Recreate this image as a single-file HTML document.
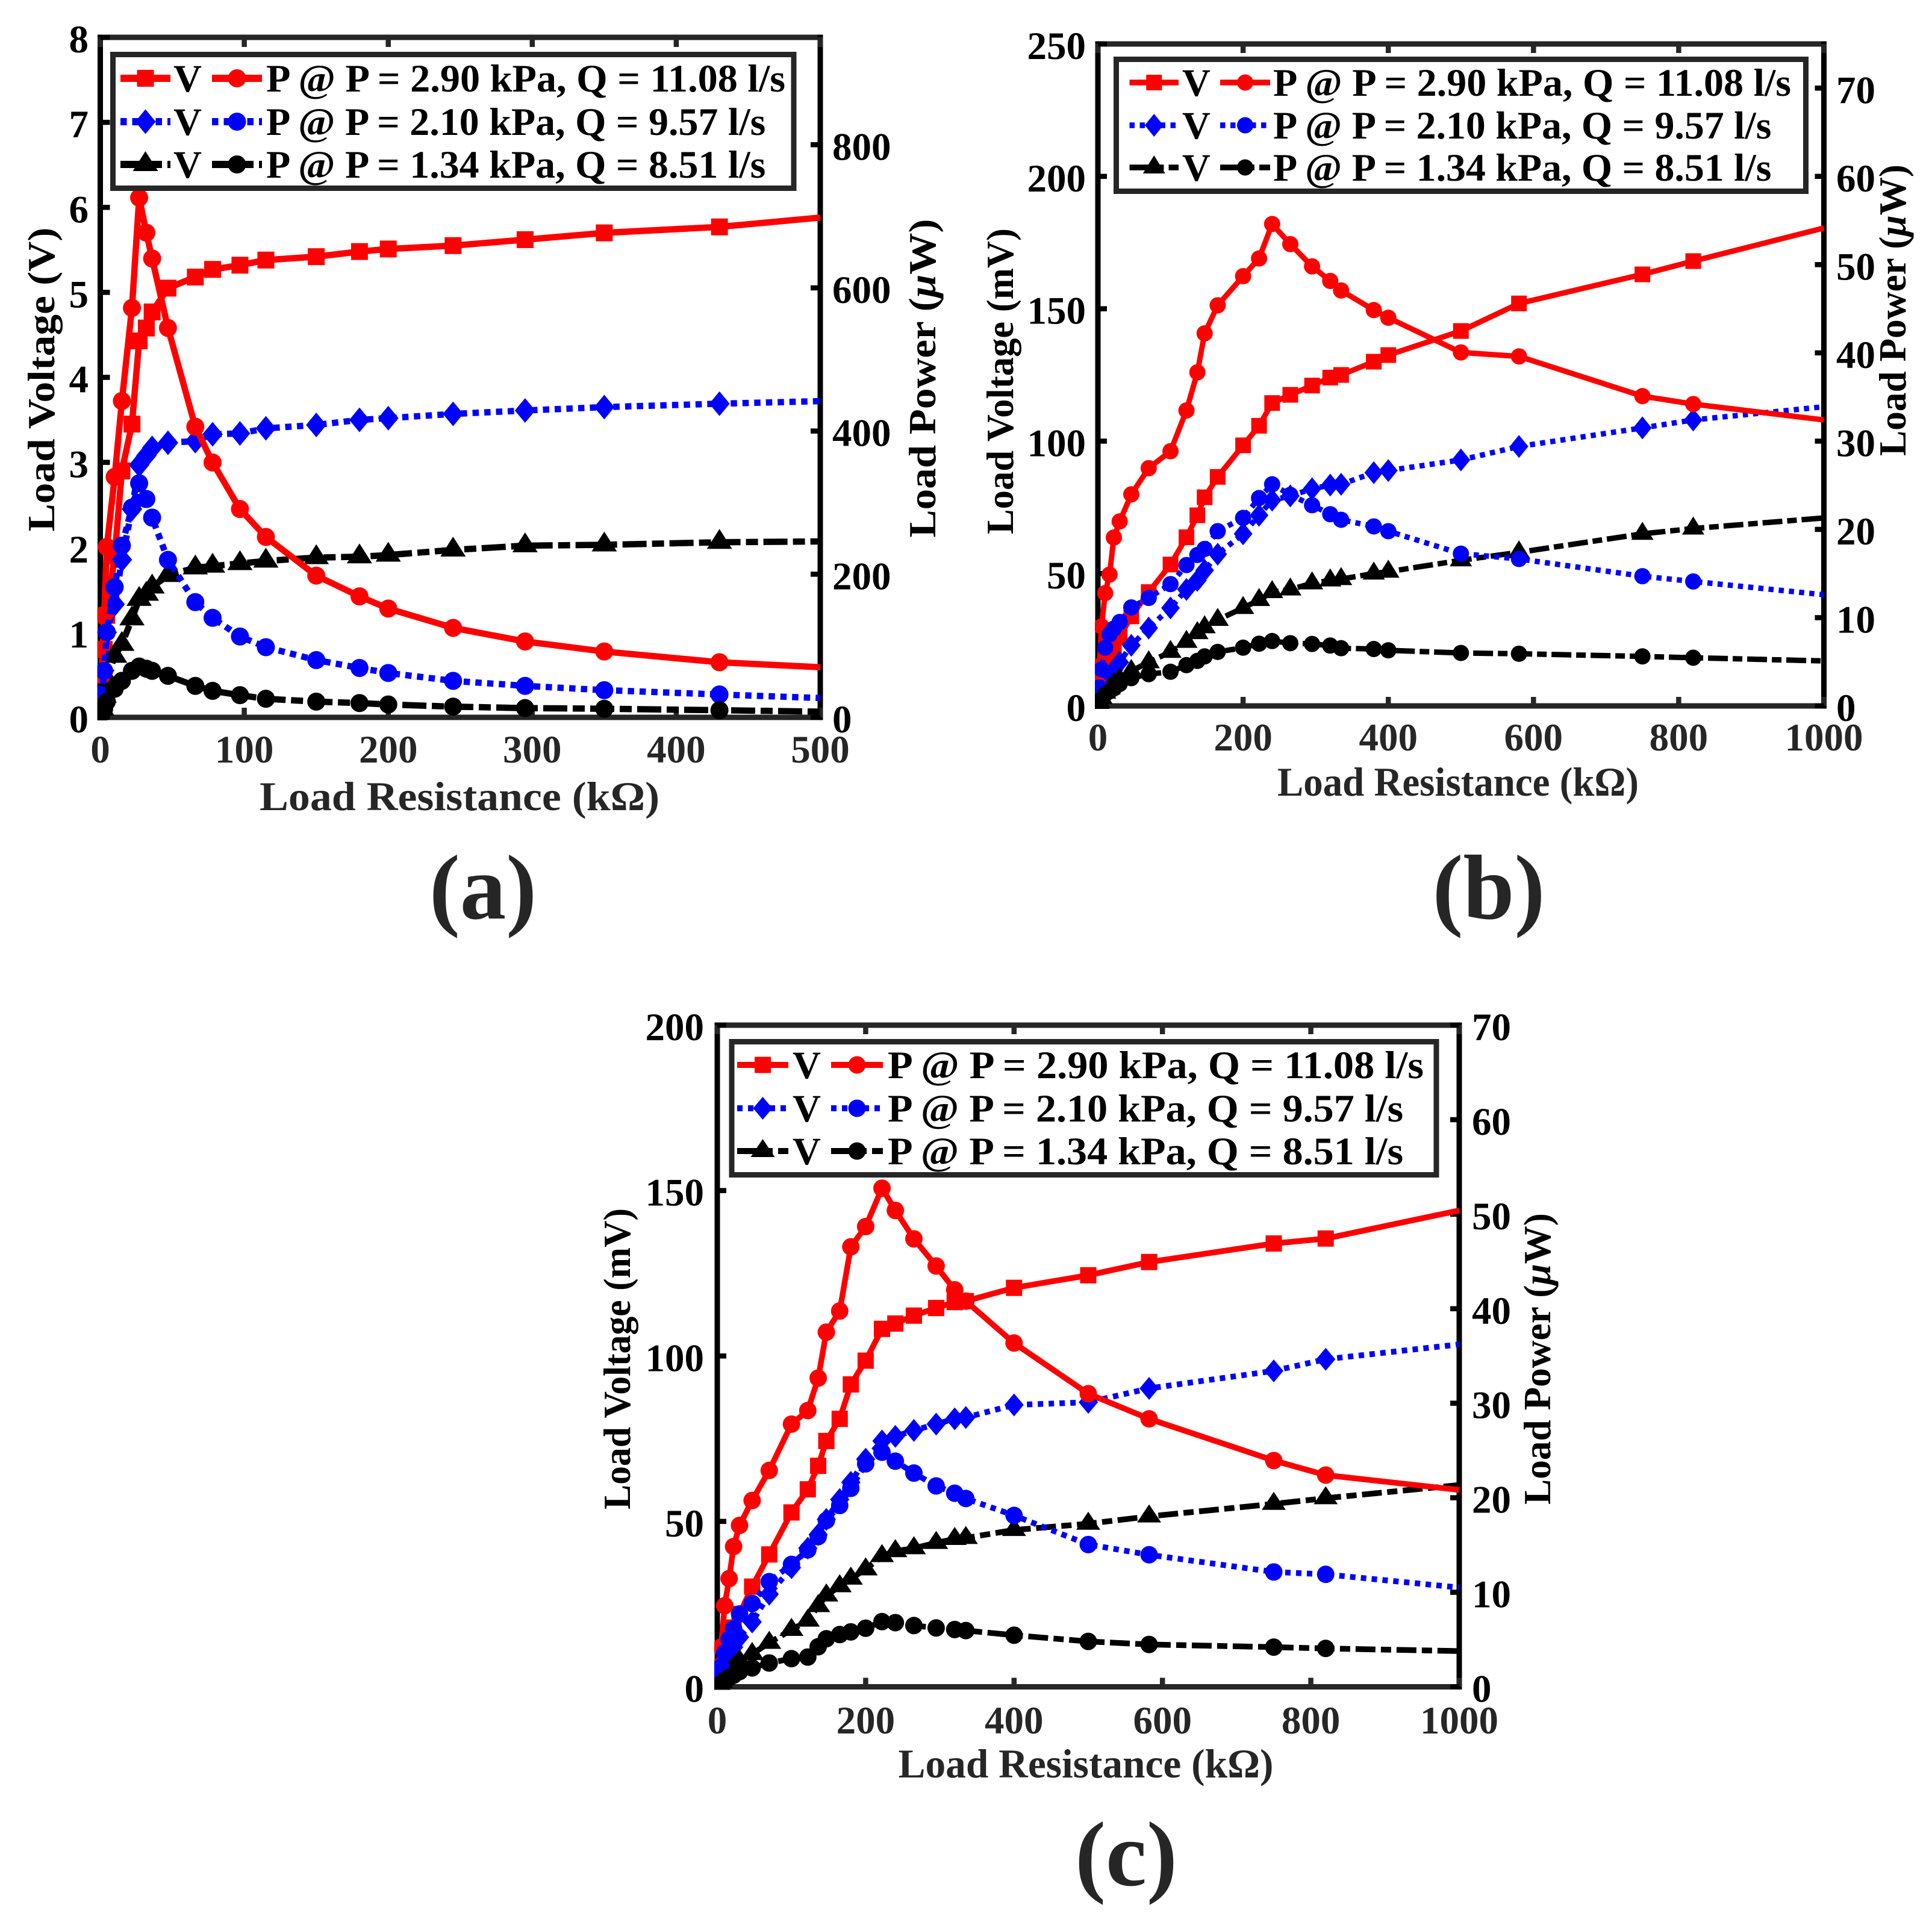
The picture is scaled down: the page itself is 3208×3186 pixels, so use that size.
<!DOCTYPE html>
<html lang="en">
<head>
<meta charset="utf-8">
<title>Load voltage and power versus load resistance</title>
<style>
html,body{margin:0;padding:0;background:#fff;}
svg{display:block;}
text{font-family:"Liberation Serif","DejaVu Serif",serif;font-weight:bold;}
</style>
</head>
<body>
<svg id="figure" xmlns="http://www.w3.org/2000/svg" width="3208" height="3186" viewBox="0 0 3208 3186">
<rect width="3208" height="3186" fill="#ffffff"/>
<text x="802" y="1525" font-size="153" text-anchor="middle" fill="#262626">(a)</text>
<text x="2472" y="1525" font-size="153" text-anchor="middle" fill="#262626">(b)</text>
<text x="1870" y="3130" font-size="153" text-anchor="middle" fill="#262626">(c)</text>
</svg>
<script>
// Panel (a)
const aResistance = [1,2.7,4.5,10,15,22,27,32,36,47,66,78,97,115,150,180,200,245,295,350,430,500];
const aVoltageHigh = [0.4,0.8,1.2,1.9,2.9,3.45,4.43,4.58,4.77,5.05,5.18,5.27,5.32,5.38,5.42,5.48,5.51,5.55,5.62,5.7,5.77,5.88];
const aVoltageMid = [0.3,0.55,1.0,1.33,1.855,2.45,2.97,3.08,3.17,3.23,3.25,3.33,3.34,3.4,3.44,3.5,3.52,3.57,3.61,3.65,3.69,3.72];
const aVoltageLow = [0.1,0.25,0.45,0.72,0.86,1.16,1.39,1.45,1.535,1.67,1.76,1.78,1.81,1.84,1.88,1.89,1.91,1.97,2.02,2.03,2.06,2.07];
const aPowerHigh = [59,143,238,336,442,572,726,677,641,544,406,356,291,252,198,169,152,125,106,92,77,70];
const aPowerMid = [30,65,119,182,240,293,327,305,279,220,161,139,113,98,80,69,62,51,44,38,32,27];
const aPowerLow = [6,12,22,40,51,65,71,68,65,58,44,37,31,26,22,20,18,15,13,12,10,8];
const aXTicks = [0,100,200,300,400,500];
const aYTicks = [0,1,2,3,4,5,6,7,8];
const aY2Ticks = [0,200,400,600,800];

// Panel (b)
const bResistance = [1,2,5,10,16,22,30,46,70,100,122,137,147,165,200,222,240,265,295,320,335,380,400,500,580,750,820,1000];
const bVoltageHigh = [3,6,11,17,19,21,26,33.8,43,53.4,63.7,72,78.8,86.5,98.4,105.8,114.4,117.5,121,124,125,130,132.5,141.6,152,163,168,180.5];
const bVoltageMid = [2,3,5,9.4,11.5,13.5,16.5,22.9,29.4,37,44,47.4,51.2,57.3,65,72,77.7,79.3,82,83.4,83.7,88.1,88.9,92.9,98,105,108,113];
const bVoltageLow = [0.8,1.5,3,5,6.6,8.3,10,13.2,16.5,20.4,24.2,27.5,29.7,32.5,37,40,43,44,46.3,47.4,47.9,50,50.7,55,58,65,67,71];
const bPowerHigh = [2.4,4.5,9,12.78,14.88,19.08,20.91,23.97,26.94,28.86,33.48,37.8,42.21,45.39,48.69,50.7,54.6,52.32,49.8,48.15,47.07,44.85,43.98,40.05,39.6,35.1,34.2,32.4];
const bPowerMid = [1.2,2.1,4.14,6.6,8.1,8.76,9.51,11.16,12.24,13.8,15.96,17.1,17.79,19.8,21.3,23.55,25.11,23.91,22.74,21.72,21.09,20.34,19.8,17.25,16.65,14.7,14.1,12.6];
const bPowerLow = [0.15,0.3,0.75,1.32,1.65,1.98,2.49,3.15,3.6,3.87,4.62,5.1,5.61,6.12,6.6,7.05,7.35,7.11,7.02,6.84,6.54,6.45,6.3,6,5.91,5.61,5.46,5.1];
const bXTicks = [0,200,400,600,800,1000];
const bYTicks = [0,50,100,150,200,250];
const bY2Ticks = [0,10,20,30,40,50,60,70];

// Panel (c)
const cResistance = [1,2,5,10,16,22,30,47,70,100,122,136,147,165,180,200,222,240,265,295,320,335,400,500,582,750,820,1000];
const cVoltageHigh = [1.5,3,5,9.5,13,17.9,22,30.3,40,52.7,59.7,66.8,74.3,81,91.4,98.6,108.2,109.8,112.2,114.5,116.3,116.6,120.6,124.4,128.4,134,135.5,144];
const cVoltageMid = [1,2,4,7,10,12,15,19.6,28,36,41.9,46,50.6,56.6,61.8,68.8,74.3,75.7,77.5,79.4,81,81.4,85.2,86,90.2,95.5,99,103.5];
const cVoltageLow = [0.4,0.8,1.5,3,4.5,6,7.8,9.9,13.3,17.2,20,24.4,27.6,30.4,32.7,35.5,39.5,41,41.9,43.5,44.7,45,47.4,49.3,51.5,55.3,57,61];
const cPowerHigh = [1.05,2.1,4.2,8.58,11.45,14.84,17.08,19.71,22.89,27.79,29.23,32.66,37.52,39.76,46.55,48.69,52.75,50.4,47.39,44.52,42,40.81,36.37,31.01,28.35,23.94,22.4,20.83];
const cPowerMid = [0.53,1.05,2.1,3.57,5.04,6.13,7.7,8.82,11.13,12.95,14.49,15.89,17.6,19.18,21,23.59,24.82,23.87,22.61,21.25,20.48,19.92,18.13,15.05,13.97,12.15,11.9,10.5];
const cPowerLow = [0.07,0.18,0.35,0.7,0.98,1.23,1.61,2,2.52,2.98,3.15,4.24,5.08,5.53,5.81,6.2,6.9,6.79,6.48,6.23,6.06,5.95,5.46,4.8,4.48,4.2,4.06,3.78];
const cXTicks = [0,200,400,600,800,1000];
const cYTicks = [0,50,100,150,200];
const cY2Ticks = [0,10,20,30,40,50,60,70];

const legendLabels = ["P @ P = 2.90 kPa, Q = 11.08 l/s","P @ P = 2.10 kPa, Q = 9.57 l/s","P @ P = 1.34 kPa, Q = 8.51 l/s"];

const NS = 'http://www.w3.org/2000/svg';
const svg = document.getElementById('figure');
function mk(parent, tag, attrs, txt){
  const e = document.createElementNS(NS, tag);
  for (const k in attrs) e.setAttribute(k, attrs[k]);
  if (txt !== undefined) e.textContent = txt;
  parent.appendChild(e);
  return e;
}
function markerPath(kind, x, y, m){
  if (kind === 'square') { const s=m.square/2; return `M${x-s} ${y-s}H${x+s}V${y+s}H${x-s}Z`; }
  if (kind === 'circle') { const r=m.circle/2; return `M${x-r} ${y}A${r} ${r} 0 1 0 ${x+r} ${y}A${r} ${r} 0 1 0 ${x-r} ${y}Z`; }
  if (kind === 'dot') { const r=m.dot/2; return `M${x-r} ${y}A${r} ${r} 0 1 0 ${x+r} ${y}A${r} ${r} 0 1 0 ${x-r} ${y}Z`; }
  if (kind === 'diamond') { const w=m.dw/2,h=m.dh/2; return `M${x} ${y-h}L${x+w} ${y}L${x} ${y+h}L${x-w} ${y}Z`; }
  const w=m.tw/2; return `M${x} ${y-m.th*0.667}L${x+w} ${y+m.th*0.333}L${x-w} ${y+m.th*0.333}Z`;
}
function drawPanel(p){
  const g = mk(svg,'g',{});
  
  
  const sx = v => p.left + (v - 0) / p.xMax * (p.right - p.left);
  const sy = v => p.bottom - v / p.yMax * (p.bottom - p.top);
  const sy2 = v => p.bottom - v / p.y2Max * (p.bottom - p.top);

  // spines
  const spines = [
    ['top-spine', p.left, p.top, p.right, p.top, '#262626'],
    ['bottom-spine', p.left, p.bottom, p.right, p.bottom, '#262626'],
    ['left-spine', p.left, p.top-4.5, p.left, p.bottom+4.5, '#000000'],
    ['right-spine', p.right, p.top-4.5, p.right, p.bottom+4.5, '#000000']
  ];
  spines.forEach(s => {
    const e = mk(g,'line',{x1:s[1],y1:s[2],x2:s[3],y2:s[4],stroke:s[5],'stroke-width':9});
    
    
  });

  // ticks + labels
  p.xTicks.forEach(t => {
    const x = sx(t);
    const t1 = mk(g,'path',{d:`M${x} ${p.bottom}v${-p.tick-4}M${x} ${p.top}v${p.tick+4}`,stroke:'#262626','stroke-width':8.5,fill:'none'});
    
    
    const l = mk(g,'text',{x:x,y:p.xTickBase,'font-size':p.tickFont,'text-anchor':'middle',fill:'#262626'},String(t));
    
    
  });
  p.yTicks.forEach(t => {
    const y = sy(t);
    const t1 = mk(g,'path',{d:`M${p.left} ${y}h${p.tick+4}`,stroke:'#000','stroke-width':8.5,fill:'none'});
    
    
    const l = mk(g,'text',{x:p.yTickRight,y:y+25,'font-size':p.tickFont,'text-anchor':'end',fill:'#000'},String(t));
    
    
  });
  p.y2Ticks.forEach(t => {
    const y = sy2(t);
    const t1 = mk(g,'path',{d:`M${p.right} ${y}h${-p.tick-4}`,stroke:'#000','stroke-width':8.5,fill:'none'});
    
    
    const l = mk(g,'text',{x:p.y2TickLeft,y:y+25,'font-size':p.tickFont,'text-anchor':'start',fill:'#000'},String(t));
    
    
  });

  // axis titles
  const xt = mk(g,'text',{x:p.xLabel[0],y:p.xLabel[1],'font-size':68,'text-anchor':'middle',fill:'#262626',textLength:p.xLabel[2],lengthAdjust:'spacingAndGlyphs'},'Load Resistance (k\u03A9)');
  
  
  const yt = mk(g,'text',{transform:`translate(${p.yLabel[0]} ${p.yLabel[1]}) rotate(-90)`,'font-size':64,'text-anchor':'middle',fill:'#000',textLength:p.yLabel[2],lengthAdjust:'spacingAndGlyphs'},p.yTitle);
  
  
  const y2 = mk(g,'text',{transform:`translate(${p.y2Label[0]} ${p.y2Label[1]}) rotate(-90)`,'font-size':64,'text-anchor':'middle',fill:'#000',textLength:p.y2Label[2],lengthAdjust:'spacingAndGlyphs'});
  
  
  mk(y2,'tspan',{},'Load Power (');
  mk(y2,'tspan',{'font-style':'italic'},'\u03BC');
  mk(y2,'tspan',{},'W)');

  // clip
  const clipId = 'clip-' + p.id;
  const cp = mk(svg,'clipPath',{id:clipId});
  mk(cp,'rect',{x:p.left-5,y:p.top-5,width:p.right-p.left+9,height:p.bottom-p.top+10});
  const plot = mk(g,'g',{'clip-path':`url(#${clipId})`});
  
  

  const series = [
    {name:'voltage-high',vals:p.vHigh,scale:sy,color:'#ff0000',dash:'none',marker:'square'},
    {name:'voltage-mid',vals:p.vMid,scale:sy,color:'#0000ff',dash:p.dot,marker:'diamond'},
    {name:'voltage-low',vals:p.vLow,scale:sy,color:'#000000',dash:p.dashdot,marker:'triangle'},
    {name:'power-high',vals:p.pHigh,scale:sy2,color:'#ff0000',dash:'none',marker:'circle'},
    {name:'power-mid',vals:p.pMid,scale:sy2,color:'#0000ff',dash:p.dot,marker:'circle'},
    {name:'power-low',vals:p.pLow,scale:sy2,color:'#000000',dash:p.dashdot,marker:'dot'}
  ];
  series.forEach(s => {
    const pts = s.vals.map((v,i) => [sx(p.x[i]), s.scale(v)]);
    const line = mk(plot,'path',{d:'M'+pts.map(q=>q[0].toFixed(1)+' '+q[1].toFixed(1)).join('L'),fill:'none',stroke:s.color,'stroke-width':p.lw,'stroke-dasharray':s.dash,'stroke-linejoin':'round'});
    
    
    // the measured series runs past the axis limit, so no marker sits on the right edge
    pts.forEach((q,i) => {
      if (p.x[i] >= p.xMax) return;
      const m = mk(plot,'path',{d:markerPath(s.marker,q[0],q[1],p.m),fill:s.color});
      
      
    });
  });

  // legend
  const L = p.legend;
  const lg = mk(g,'g',{});
  
  
  const box = mk(lg,'rect',{x:L.x0,y:L.y0,width:L.x1-L.x0,height:L.y1-L.y0,fill:'#fff',stroke:'#262626','stroke-width':9});
  
  
  const rowStyles = [
    {color:'#ff0000',dash:'none',a:'square',b:'circle'},
    {color:'#0000ff',dash:p.dot,a:'diamond',b:'circle'},
    {color:'#000000',dash:p.dashdot,a:'triangle',b:'dot'}
  ];
  rowStyles.forEach((r,i) => {
    const y = L.rows[i];
    const s1 = mk(lg,'path',{d:`M${L.s1[0]} ${y}H${L.s1[1]}`,stroke:r.color,'stroke-width':L.lw,'stroke-dasharray':r.dash,fill:'none'});
    
    
    const m1 = mk(lg,'path',{d:markerPath(r.a,(L.s1[0]+L.s1[1])/2,y,p.m),fill:r.color});
    
    
    const v = mk(lg,'text',{x:L.vx,y:y+L.base,'font-size':65,fill:'#000'},'V');
    
    
    const s2 = mk(lg,'path',{d:`M${L.s2[0]} ${y}H${L.s2[1]}`,stroke:r.color,'stroke-width':L.lw,'stroke-dasharray':r.dash,fill:'none'});
    
    
    const m2 = mk(lg,'path',{d:markerPath(r.b,(L.s2[0]+L.s2[1])/2,y,p.m),fill:r.color});
    
    
    const len = i === 0 ? L.len : L.len * 0.962;
    const t = mk(lg,'text',{x:L.px,y:y+L.base,'font-size':65,fill:'#000',textLength:len,lengthAdjust:'spacingAndGlyphs'},legendLabels[i]);
    
    
  });
}

drawPanel({id:'a',left:166.5,right:1362,top:62,bottom:1191,xMax:500,yMax:8,y2Max:950,
  x:aResistance,vHigh:aVoltageHigh,vMid:aVoltageMid,vLow:aVoltageLow,pHigh:aPowerHigh,pMid:aPowerMid,pLow:aPowerLow,
  xTicks:aXTicks,yTicks:aYTicks,y2Ticks:aY2Ticks,tick:12,tickFont:65,xTickBase:1266,yTickRight:147,y2TickLeft:1382,
  lw:10.5,dot:'10.5 9',dashdot:'40 9 20 9',
  m:{square:28,circle:30,dot:30,dw:34,dh:41,tw:42,th:33},
  yTitle:'Load Voltage (V)',xLabel:[763,1345,664],yLabel:[90,630,505],y2Label:[1553,628,529],
  legend:{x0:187.5,y0:90.5,x1:1318,y1:312.5,rows:[130,202,273],s1:[200,283],s2:[352,435],vx:288,px:442,len:862,lw:12,base:22}
});
drawPanel({id:'b',left:1823,right:3028.5,top:73,bottom:1172,xMax:1000,yMax:250,y2Max:75,
  x:bResistance,vHigh:bVoltageHigh,vMid:bVoltageMid,vLow:bVoltageLow,pHigh:bPowerHigh,pMid:bPowerMid,pLow:bPowerLow,
  xTicks:bXTicks,yTicks:bYTicks,y2Ticks:bY2Ticks,tick:11,tickFont:65,xTickBase:1246,yTickRight:1803,y2TickLeft:3049,
  lw:9,dot:'8.5 8.5',dashdot:'33 8 16 8',
  m:{square:26,circle:27,dot:27,dw:31,dh:38,tw:37,th:30},
  yTitle:'Load Voltage (mV)',xLabel:[2421,1321,600],yLabel:[1682,633,508],y2Label:[3164,515,484],
  legend:{x0:1853.5,y0:98.5,x1:2998.5,y1:317.5,rows:[137,208,278],s1:[1875.5,1957],s2:[2026,2109],vx:1963,px:2114,len:860,lw:9.5,base:22}
});
drawPanel({id:'c',left:1191,right:2423,top:1702,bottom:2800.5,xMax:1000,yMax:200,y2Max:70,
  x:cResistance,vHigh:cVoltageHigh,vMid:cVoltageMid,vLow:cVoltageLow,pHigh:cPowerHigh,pMid:cPowerMid,pLow:cPowerLow,
  xTicks:cXTicks,yTicks:cYTicks,y2Ticks:cY2Ticks,tick:11,tickFont:65,xTickBase:2878,yTickRight:1169,y2TickLeft:2444,
  lw:9.5,dot:'9 9',dashdot:'33 9 17 9',
  m:{square:27,circle:29,dot:29,dw:32,dh:38,tw:40,th:30},
  yTitle:'Load Voltage (mV)',xLabel:[1803,2951,623],yLabel:[1046,2256,500],y2Label:[2574,2256,484],
  legend:{x0:1215,y0:1729.5,x1:2385,y1:1950.5,rows:[1768,1840,1911],s1:[1224,1309],s2:[1380,1466],vx:1316,px:1474,len:890,lw:10,base:22}
});
</script>
</body>
</html>
